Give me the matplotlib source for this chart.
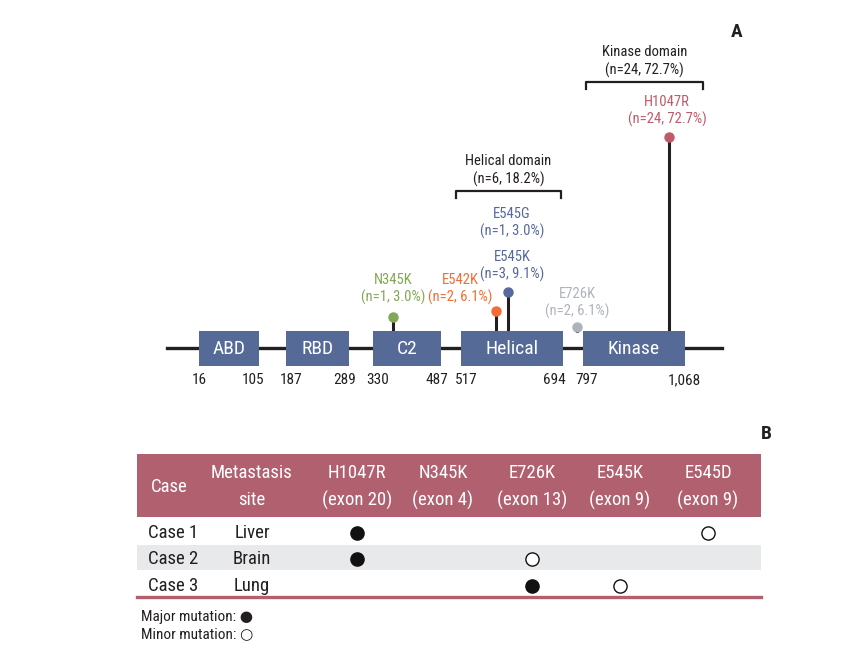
import matplotlib.pyplot as plt
from matplotlib.patches import Rectangle

# ---- data ----
domains = ['ABD', 'RBD', 'C2', 'Helical', 'Kinase']
dom_start = [16, 187, 330, 517, 797]
dom_end = [105, 289, 487, 694, 1068]

mutations = ['N345K', 'E542K', 'E545K', 'E726K', 'H1047R']
mut_n = [1, 2, 3, 2, 24]
mut_pct = [3.0, 6.1, 9.1, 6.1, 72.7]
extra_name = 'E545G'
extra_n = 1
extra_pct = 3.0

groups = ['Helical domain', 'Kinase domain']
group_n = [6, 24]
group_pct = [18.2, 72.7]

cases = ['Case 1', 'Case 2', 'Case 3']
sites = ['Liver', 'Brain', 'Lung']
tab_muts = ['H1047R', 'N345K', 'E726K', 'E545K', 'E545D']
tab_exons = ['exon 20', 'exon 4', 'exon 13', 'exon 9', 'exon 9']
# 2 = major, 1 = minor, 0 = none
status = [[2, 0, 0, 0, 1],
          [2, 0, 1, 0, 0],
          [0, 0, 2, 1, 0]]

# ---- layout (figure pixel coords, diagram not to scale) ----
box_x0 = [199, 286, 373, 461, 583]
box_x1 = [259, 349, 441, 563, 685]
num_x0 = [199, 291, 378, 466, 587]
num_x1 = [253, 345, 437, 554, 684]
mut_x = [393, 496, 508, 577, 669]
mut_top = [317, 311, 292, 327, 137]
mut_lab = [(393, 280), (460, 280), (512, 257), (577, 294), (667, 102)]
grp_x = [(456, 561), (586, 703)]
grp_y = [191, 82]
col_x = [169, 252, 357, 443, 532, 620, 708]
row_y = [533, 559, 586]

mut_col = ['#82a855', '#f26d33', '#56699a', '#aeb3bb', '#c05a69']
box_col = '#566a97'
rose = '#b0606f'
ink = '#231f20'

plt.rcParams['font.family'] = ['Roboto Condensed', 'DejaVu Sans']

fig = plt.figure(figsize=(8.59, 6.52), dpi=100)
ax = fig.add_axes([0, 0, 1, 1])
ax.set_xlim(0, 859)
ax.set_ylim(652, 0)
ax.axis('off')

# ---- panel A ----
line_y = 348
ax.plot([167, 722], [line_y, line_y], color=ink, lw=2.4, zorder=1)
for i, d in enumerate(domains):
    ax.add_patch(Rectangle((box_x0[i], 331), box_x1[i] - box_x0[i], 35,
                           facecolor=box_col, edgecolor='none', zorder=3))
    ax.text((box_x0[i] + box_x1[i]) / 2, line_y + 1, d, color='white',
            fontsize=14, ha='center', va='center', zorder=4)
    ax.text(num_x0[i], 380, f'{dom_start[i]:,}', fontsize=11, ha='center',
            va='center', color=ink)
    ax.text(num_x1[i], 380, f'{dom_end[i]:,}', fontsize=11, ha='center',
            va='center', color=ink)

for i, m in enumerate(mutations):
    ax.plot([mut_x[i], mut_x[i]], [331, mut_top[i]], color=ink, lw=2.2, zorder=2)
    ax.plot(mut_x[i], mut_top[i], 'o', color=mut_col[i], ms=6.5, zorder=5)
    lx, ly = mut_lab[i]
    ax.text(lx, ly, m, color=mut_col[i], fontsize=10.5, ha='center', va='center')
    ax.text(lx, ly + 17, f'(n={mut_n[i]}, {mut_pct[i]}%)', color=mut_col[i],
            fontsize=10.5, ha='center', va='center')

ax.text(512, 214, extra_name, color=mut_col[2], fontsize=10.5, ha='center', va='center')
ax.text(512, 231, f'(n={extra_n}, {extra_pct}%)', color=mut_col[2], fontsize=10.5,
        ha='center', va='center')

for i, g in enumerate(groups):
    x0, x1 = grp_x[i]
    y = grp_y[i]
    ax.plot([x0, x0, x1, x1], [y + 7, y, y, y + 7], color=ink, lw=1.6)
    ax.text((x0 + x1) / 2, y - 30, g, fontsize=10.5, ha='center', va='center', color=ink)
    ax.text((x0 + x1) / 2, y - 12, f'(n={group_n[i]}, {group_pct[i]}%)', fontsize=10.5,
            ha='center', va='center', color=ink)

ax.text(737, 32, 'A', fontsize=14, fontweight='bold', ha='center', va='center', color=ink)

# ---- panel B ----
ax.text(766, 434, 'B', fontsize=14, fontweight='bold', ha='center', va='center', color=ink)
ax.add_patch(Rectangle((137, 454), 624, 63, facecolor=rose, edgecolor='none'))
ax.add_patch(Rectangle((137, 545), 624, 25, facecolor='#e8e9eb', edgecolor='none'))
ax.plot([137, 761], [597, 597], color=rose, lw=2.4)

hdr_kw = dict(color='white', fontsize=13.5, ha='center', va='center')
ax.text(col_x[0], 487, 'Case', **hdr_kw)
ax.text(col_x[1], 473, 'Metastasis', **hdr_kw)
ax.text(col_x[1], 500, 'site', **hdr_kw)
for j, m in enumerate(tab_muts):
    ax.text(col_x[j + 2], 473, m, **hdr_kw)
    ax.text(col_x[j + 2], 500, f'({tab_exons[j]})', **hdr_kw)

for r, c in enumerate(cases):
    ax.text(col_x[0] + 4, row_y[r], c, fontsize=13.5, ha='center', va='center', color=ink)
    ax.text(col_x[1], row_y[r], sites[r], fontsize=13.5, ha='center', va='center', color=ink)
    for j, s in enumerate(status[r]):
        if s == 2:
            ax.plot(col_x[j + 2], row_y[r], 'o', ms=9.5, color='#111111', mec='#111111')
        elif s == 1:
            ax.plot(col_x[j + 2], row_y[r], 'o', ms=9.5, mfc='white', mec='#111111', mew=1)

ax.text(141, 617, 'Major mutation: ●', fontsize=11, ha='left', va='center', color=ink)
ax.text(141, 634, 'Minor mutation: ○', fontsize=11, ha='left', va='center', color=ink)

fig.savefig('out.png', dpi=100)
